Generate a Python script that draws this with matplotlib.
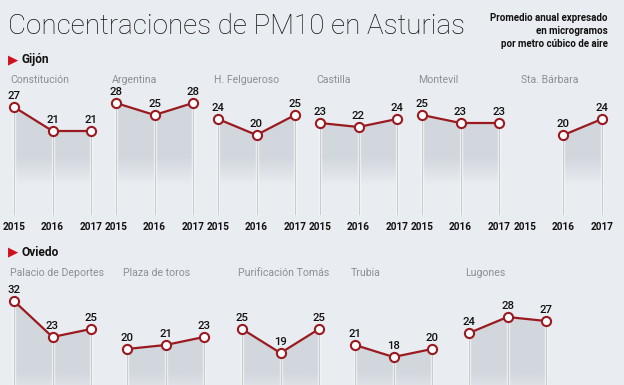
import numpy as np
import matplotlib
matplotlib.use("Agg")
import matplotlib.pyplot as plt
from matplotlib.patches import Polygon

# ---------------- data ----------------
years = [2015, 2016, 2017]

gijon_names = ["Constitución", "Argentina", "H. Felgueroso", "Castilla", "Montevil", "Sta. Bárbara"]
gijon_constitucion = [27, 21, 21]
gijon_argentina = [28, 25, 28]
gijon_felgueroso = [24, 20, 25]
gijon_castilla = [23, 22, 24]
gijon_montevil = [25, 23, 23]
gijon_stabarbara = [None, 20, 24]

oviedo_names = ["Palacio de Deportes", "Plaza de toros", "Purificación Tomás", "Trubia", "Lugones"]
oviedo_palacio = [32, 23, 25]
oviedo_plaza = [20, 21, 23]
oviedo_purificacion = [25, 19, 25]
oviedo_trubia = [21, 18, 20]
oviedo_lugones = [24, 28, 27]

title = "Concentraciones de PM10 en Asturias"
subtitle = ["Promedio anual expresado", "en microgramos", "por metro cúbico de aire"]

# ---------------- style ----------------
W, H = 624, 385
BG = "#e9ecf0"
LINE = "#9a1a20"
RED = "#d0101e"
FILL = "#d2d7dd"
VLINE = "#c6cbd1"
NAME_C = "#8b9097"
FONT = "Roboto"

fig = plt.figure(figsize=(W / 100, H / 100), dpi=100, facecolor=BG)


def ftext(x, y, s, **kw):
    return fig.text(x / W, 1 - y / H, s, **kw)


PPY = 38.5   # pixels per year
PPU = 4.0    # pixels per unit
XL = (2014.5, 2017.5)
YL = (0, 40)

fill_rgb = matplotlib.colors.to_rgb(FILL)
vv = np.linspace(YL[0], YL[1], 400)
alpha = np.clip((vv - 7.5) / 7.0, 0, 1)
grad = np.zeros((len(vv), 1, 4))
grad[..., 0], grad[..., 1], grad[..., 2] = fill_rgb
grad[:, 0, 3] = alpha


def station(x2015, y0, name, vals, name_y, show_years):
    left = x2015 + (XL[0] - 2015) * PPY
    width = (XL[1] - XL[0]) * PPY
    height = (YL[1] - YL[0]) * PPU
    ax = fig.add_axes([left / W, (H - y0) / H, width / W, height / H])
    ax.set_xlim(*XL)
    ax.set_ylim(*YL)
    ax.patch.set_alpha(0)
    for s in ax.spines.values():
        s.set_visible(False)
    ax.set_yticks([])
    if show_years:
        ax.set_xticks(years)
        ax.set_xticklabels([str(y) for y in years], fontsize=7.2, fontweight="bold",
                           family=FONT, color="#111111")
        ax.tick_params(axis="x", length=0, pad=5)
    else:
        ax.set_xticks([])

    xs = [y for y, v in zip(years, vals) if v is not None]
    vs = [v for v in vals if v is not None]

    # gradient fill under the line
    poly = Polygon(list(zip(xs, vs)) + [(xs[-1], 0), (xs[0], 0)], closed=True,
                   facecolor="none", edgecolor="none")
    ax.add_patch(poly)
    im = ax.imshow(grad, extent=[XL[0], XL[1], YL[0], YL[1]], origin="lower",
                   aspect="auto", zorder=1, interpolation="bilinear")
    im.set_clip_path(poly)

    # vertical drop lines
    ax.vlines(xs, 0, vs, color="white", lw=2.4, alpha=0.7, zorder=2)
    ax.vlines(xs, 0, vs, color=VLINE, lw=0.9, zorder=3)

    ax.plot(xs, vs, color=LINE, lw=1.6, zorder=4, marker="o", ms=6.6,
            mfc="white", mec=LINE, mew=1.5, clip_on=False)
    for x, v in zip(xs, vs):
        ax.annotate(str(v), (x, v), xytext=(0, 8.2), textcoords="offset points",
                    ha="center", va="center", fontsize=8.2, family=FONT,
                    fontweight="medium", color="#111111", annotation_clip=False)

    ftext(x2015 - 4, name_y, name, fontsize=7.6, family=FONT, color=NAME_C,
          va="center", ha="left")
    return ax


gijon_vals = [gijon_constitucion, gijon_argentina, gijon_felgueroso,
              gijon_castilla, gijon_montevil, gijon_stabarbara]
gijon_x = [14, 116, 218, 320, 422, 525]
for x0, nm, vals in zip(gijon_x, gijon_names, gijon_vals):
    station(x0, 215, nm, vals, 80, True)

oviedo_vals = [oviedo_palacio, oviedo_plaza, oviedo_purificacion,
               oviedo_trubia, oviedo_lugones]
oviedo_x = [14, 127, 242, 355, 469]
for x0, nm, vals in zip(oviedo_x, oviedo_names, oviedo_vals):
    station(x0, 429, nm, vals, 273, False)

# headers
ftext(8, 26, title, fontsize=20, family="Roboto", fontweight="light",
      color="#111111", va="center", ha="left")
for i, line in enumerate(subtitle):
    ftext(608, 18 + i * 13, line, fontsize=7.0,
          family="Roboto", fontweight="bold",
          color="#111111", va="center", ha="right")

for label, y in [("Gijón", 60), ("Oviedo", 252)]:
    ftext(8, y, "▶", fontsize=9.5, family="DejaVu Sans", color=RED, va="center", ha="left")
    ftext(22, y, label, fontsize=8.6, family=FONT, fontweight="bold",
          color="#111111", va="center", ha="left")

fig.savefig("out.png", dpi=100, facecolor=BG)
